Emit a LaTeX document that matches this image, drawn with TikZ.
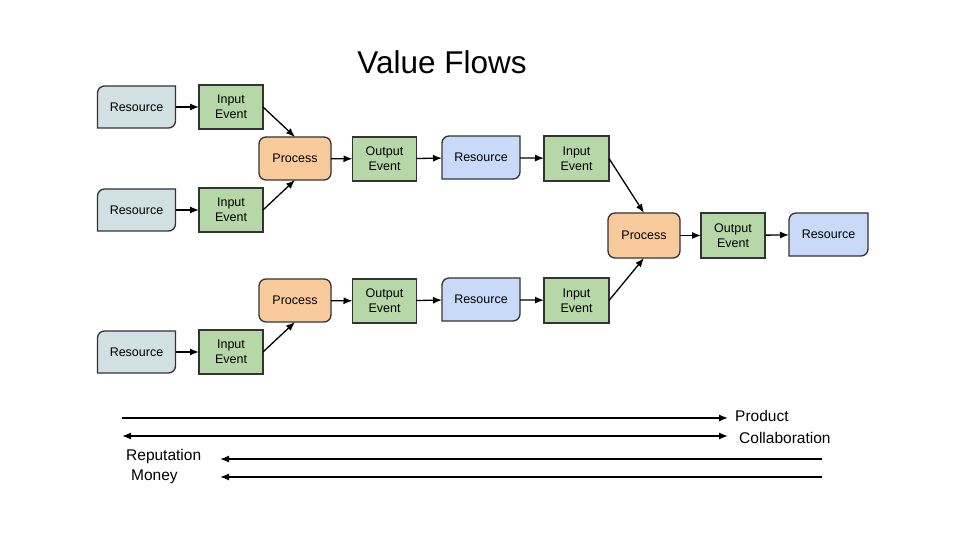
\documentclass[tikz,border=0pt]{standalone}
\usepackage{fontspec}
\setmainfont{Liberation Sans}
\usetikzlibrary{arrows.meta,backgrounds}
\definecolor{resgray}{HTML}{D0E0E3}
\definecolor{resblue}{HTML}{C9DAF8}
\definecolor{evgreen}{HTML}{B6D7A8}
\definecolor{procorange}{HTML}{F9CB9C}
\definecolor{edgecol}{HTML}{333333}
\tikzset{
  boxtext/.style={font=\fontsize{12.5}{15}\selectfont, align=center, text=black},
  box/.style={boxtext, draw=edgecol, line width=1.3pt, inner sep=0pt, outer sep=0pt},
  event/.style={box, fill=evgreen, minimum width=64pt, minimum height=44pt},
  proc/.style={box, fill=procorange, rounded corners=7pt, minimum width=72pt, minimum height=43pt},
  res/.style={boxtext, inner sep=0pt, outer sep=0pt, minimum width=78pt, minimum height=42pt},
  resframe/.style={draw=edgecol, line width=1.3pt},
  flow/.style={draw=black, line width=1.3pt, -{Latex[length=9pt,width=7pt]}},
  bothflow/.style={draw=black, line width=1.3pt, {Latex[length=9pt,width=7pt]}-{Latex[length=9pt,width=7pt]}},
  label/.style={font=\fontsize{15.5}{18}\selectfont, inner sep=0pt, anchor=west}
}
\newcommand\resshape[2]{%
  \filldraw[resframe, fill=#2] ([yshift=-7pt]#1.north west) arc[start angle=180,end angle=90,radius=7pt]
    -- (#1.north east) -- ([yshift=7pt]#1.south east) arc[start angle=0,end angle=-90,radius=7pt]
    -- (#1.south west) -- cycle;}
\begin{document}
\begin{tikzpicture}[x=1pt,y=1pt]
\useasboundingbox (0,0) rectangle (960,540);
% title
\node[font=\fontsize{31.5}{36}\selectfont, inner sep=0pt] (title) at (442,478) {Value Flows};
% left column
\node[res] (r1) at (136.5,433) {Resource};
\node[event] (ie1) at (231,433) {Input\\Event};
\node[res] (r2) at (136.5,330) {Resource};
\node[event] (ie2) at (231,330) {Input\\Event};
\node[res] (r3) at (136.5,188) {Resource};
\node[event] (ie3) at (231,188) {Input\\Event};
% upper row
\node[proc] (p1) at (295,381.5) {Process};
\node[event] (oe1) at (384.5,381) {Output\\Event};
\node[res, minimum height=43pt] (br1) at (481,382.5) {Resource};
\node[event, minimum width=65pt, minimum height=45pt] (ie4) at (576.5,381.5) {Input\\Event};
% lower row
\node[proc] (p2) at (295,239.5) {Process};
\node[event] (oe2) at (384.5,239) {Output\\Event};
\node[res, minimum height=43pt] (br2) at (481,240.5) {Resource};
\node[event, minimum width=65pt, minimum height=45pt] (ie5) at (576.5,239.5) {Input\\Event};
% right
\node[proc, minimum height=45pt] (p3) at (644,304.5) {Process};
\node[event, minimum height=45pt] (oe3) at (733,304.5) {Output\\Event};
\node[res, minimum width=79pt, minimum height=43pt] (br3) at (828.5,305.5) {Resource};
\begin{scope}[on background layer]
\fill[white] (0,0) rectangle (960,540);
\resshape{r1}{resgray}
\resshape{r2}{resgray}
\resshape{r3}{resgray}
\resshape{br1}{resblue}
\resshape{br2}{resblue}
\resshape{br3}{resblue}
\end{scope}
% connectors
\draw[flow] (r1) -- (ie1);
\draw[flow] (r2) -- (ie2);
\draw[flow] (r3) -- (ie3);
\draw[flow] (ie1.east) -- (p1.north);
\draw[flow] (ie2.east) -- (p1.south);
\draw[flow] (ie3.east) -- (p2.south);
\draw[flow] (p1) -- (oe1);
\draw[flow] (oe1) -- (br1);
\draw[flow] (br1) -- (ie4);
\draw[flow] (p2) -- (oe2);
\draw[flow] (oe2) -- (br2);
\draw[flow] (br2) -- (ie5);
\draw[flow] (ie4.east) -- (p3.north);
\draw[flow] (ie5.east) -- (p3.south);
\draw[flow] (p3) -- (oe3);
\draw[flow] (oe3) -- (br3);
% legend
\coordinate (a1) at (122,122); \coordinate (a2) at (728,122);
\coordinate (b1) at (122,104); \coordinate (b2) at (728,104);
\coordinate (c1) at (822,81);  \coordinate (c2) at (220,81);
\coordinate (d1) at (822,63);  \coordinate (d2) at (220,63);
\draw[flow] (a1) -- (a2);
\draw[bothflow] (b1) -- (b2);
\draw[flow] (c1) -- (c2);
\draw[flow] (d1) -- (d2);
\node[label] (lprod) at (735,124) {Product};
\node[label] (lcoll) at (739,102) {Collaboration};
\node[label] (lrep) at (126,84) {Reputation};
\node[label] (lmon) at (131,63) {Money};
\end{tikzpicture}
\end{document}
